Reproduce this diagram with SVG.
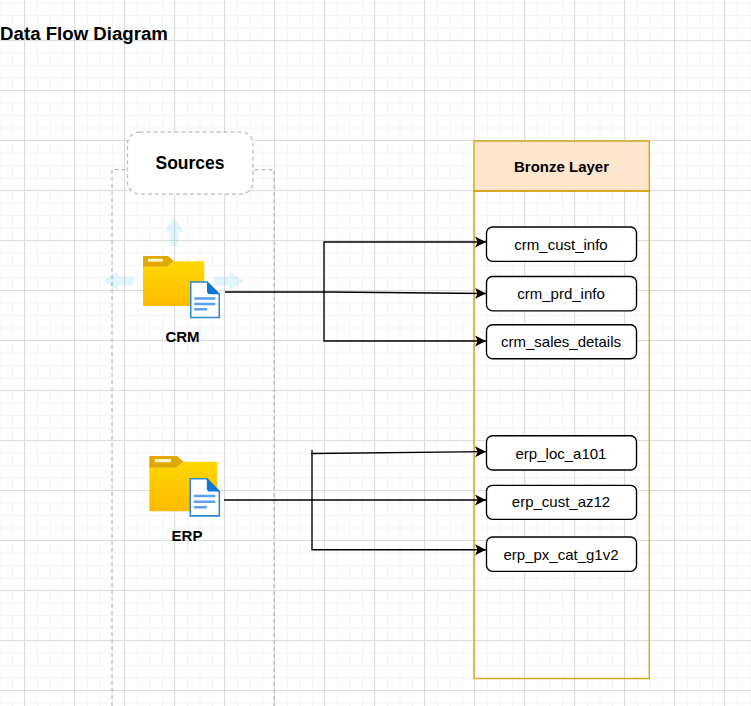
<svg xmlns="http://www.w3.org/2000/svg" width="751" height="706" viewBox="0 0 751 706">
  <style>
    text { font-family: "Liberation Sans", Arial, sans-serif; fill: #000; text-anchor: middle; }
    .b { font-weight: bold; }
    .t15 { font-size: 15px; }
    .title { font-size: 18.65px; }
    .src { font-size: 17.5px; }
    .box { fill: #fff; stroke: #000; stroke-width: 1.35; }
    .lay { fill: none; stroke: #d79b00; stroke-width: 1.5; stroke-opacity: .85; }
    .dash { stroke: #bbb; stroke-width: 1.25; stroke-dasharray: 4 3; }
    .con { fill: none; stroke: #000; stroke-width: 1.35; }
    .hint { fill: #29b6f2; fill-opacity: .13; }
    .docline { stroke: #5ea0ef; stroke-width: 2.4; }
  </style>
  <defs>
    <pattern id="minor" width="12.5" height="12.5" patternUnits="userSpaceOnUse" x="12" y="2.5">
      <path d="M.5 0V12.5M0 .5H12.5" fill="none" stroke="#f5f5f5" stroke-width="1"/>
    </pattern>
    <pattern id="major" width="50" height="50" patternUnits="userSpaceOnUse" x="24" y="40">
      <path d="M.5 0V50M0 .5H50" fill="none" stroke="#dcdcdc" stroke-width="1"/>
    </pattern>
    <linearGradient id="fg" x1="0" y1="0" x2="0" y2="1">
      <stop offset="0" stop-color="#ffd800"/>
      <stop offset="1" stop-color="#ffba00"/>
    </linearGradient>
    <g id="folder">
      <path d="M0 10.7H24L31 5.3H60.3Q61.3 5.3 61.3 6.3V49Q61.3 50 60.3 50H1Q0 50 0 49Z" fill="url(#fg)"/>
      <path d="M1 0H25L31 5.3L24 10.7H0V1Q0 0 1 0Z" fill="#e0a800"/>
      <rect x="5" y="2.7" width="14.7" height="3" fill="#fff3c8"/>
    </g>
    <g id="doc">
      <path d="M.75 .75H17L29.25 13V36.25H.75Z" fill="#fff" stroke="#2b88d8" stroke-width="1.5"/>
      <path d="M17 0L30 13H20Q17 13 17 10Z" fill="#0f78d4"/>
      <path class="docline" d="M4.3 17.2H25.3M4.3 22.7H25.3M4.3 28H17"/>
    </g>
    <marker id="arrow" markerUnits="userSpaceOnUse" markerWidth="13" markerHeight="13" refX="11" refY="6" orient="auto">
      <path d="M0 .5L11 6L0 11.5L2.7 6Z" fill="#000"/>
    </marker>
  </defs>

  <rect width="751" height="706" fill="#fff"/>
  <rect width="751" height="706" fill="url(#minor)"/>
  <rect width="751" height="706" fill="url(#major)"/>

  <text id="title" class="b title" x="84" y="40">Data Flow Diagram</text>

  <g id="sources-container">
    <path class="dash" fill="none" d="M112 706V169.5H274V706"/>
  </g>
  <g id="sources-label">
    <rect x="127.5" y="132" width="125.5" height="62" rx="12" fill="#fff" class="dash"/>
    <text class="b src" x="190" y="169">Sources</text>
  </g>

  <g id="hints">
    <path class="hint" d="M174 217L184 232H178.5V246H169.5V232H164Z"/>
    <path class="hint" d="M103 281L118 271V276.5H133V285.5H118V291Z"/>
    <path class="hint" d="M244 281L229 271V276.5H214V285.5H229V291Z"/>
  </g>

  <g id="crm">
    <use href="#folder" transform="translate(143 256)"/>
    <use href="#doc" transform="translate(190 281.3)"/>
    <text class="b t15" x="182.5" y="342">CRM</text>
  </g>
  <g id="erp">
    <use href="#folder" transform="translate(149.3 456) scale(1.107 1.106)"/>
    <use href="#doc" transform="translate(189.5 478) scale(1.02 1.045)"/>
    <text class="b t15" x="187" y="541">ERP</text>
  </g>

  <g id="bronze-layer">
    <rect x="474" y="141" width="175.3" height="50" fill="#ffe6cc"/>
    <rect class="lay" x="474" y="141" width="175.3" height="50"/>
    <rect class="lay" x="474" y="191" width="175.3" height="487.5"/>
    <text class="b t15" x="561.5" y="172">Bronze Layer</text>
  </g>

  <g id="crm_cust_info"><rect class="box" x="486.5" y="227" width="150" height="34.3" rx="6"/><text class="t15" x="561" y="250">crm_cust_info</text></g>
  <g id="crm_prd_info"><rect class="box" x="486.5" y="276.5" width="150" height="34.3" rx="6"/><text class="t15" x="561" y="299">crm_prd_info</text></g>
  <g id="crm_sales_details"><rect class="box" x="486.5" y="324.7" width="150" height="34" rx="6"/><text class="t15" x="561" y="347">crm_sales_details</text></g>
  <g id="erp_loc_a101"><rect class="box" x="486.5" y="435.7" width="150" height="34.3" rx="6"/><text class="t15" x="561" y="459">erp_loc_a101</text></g>
  <g id="erp_cust_az12"><rect class="box" x="486.5" y="485.3" width="150" height="34" rx="6"/><text class="t15" x="561" y="507">erp_cust_az12</text></g>
  <g id="erp_px_cat_g1v2"><rect class="box" x="486.5" y="537" width="150" height="34.3" rx="6"/><text class="t15" x="561" y="560">erp_px_cat_g1v2</text></g>

  <g id="connectors">
    <path class="con" d="M225 292L330 292L486 293.5" marker-end="url(#arrow)"/>
    <path class="con" d="M324 292V242H486" marker-end="url(#arrow)"/>
    <path class="con" d="M324 292V341H486" marker-end="url(#arrow)"/>
    <path class="con" d="M224 500H486" marker-end="url(#arrow)"/>
    <path class="con" d="M312 450V453.5L486 451.7" marker-end="url(#arrow)"/>
    <path class="con" d="M312 453V549.7H486" marker-end="url(#arrow)"/>
  </g>
</svg>
